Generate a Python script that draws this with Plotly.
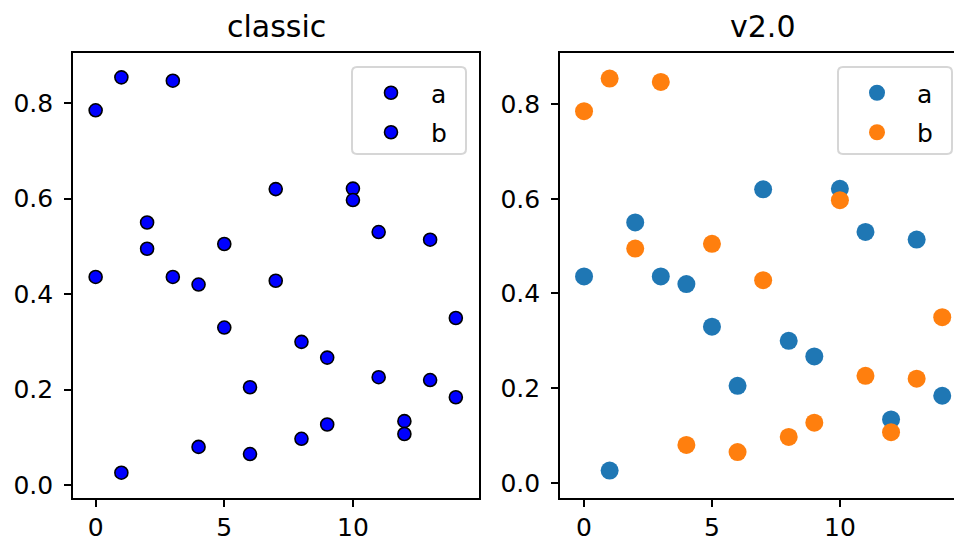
import plotly.graph_objects as go

x_vals = list(range(15))
a_vals = [0.436, 0.026, 0.550, 0.436, 0.420, 0.330, 0.205, 0.620, 0.300, 0.267, 0.621, 0.530, 0.134, 0.514, 0.184]
b_vals = [0.785, 0.854, 0.495, 0.847, 0.080, 0.505, 0.065, 0.428, 0.097, 0.127, 0.597, 0.226, 0.107, 0.220, 0.350]
series_names = ["a", "b"]
panel_titles = ["classic", "v2.0"]
y_tick_vals = [0.0, 0.2, 0.4, 0.6, 0.8]
x_tick_vals = [0, 5, 10]

W, H = 954, 539
FONT = "DejaVu Sans"

fig = go.Figure()

# classic panel
for name, vals in zip(series_names, [a_vals, b_vals]):
    fig.add_trace(go.Scatter(
        x=x_vals, y=vals, mode="markers", name=name,
        marker=dict(size=13, color="#0000ff", line=dict(color="black", width=1.6)),
        xaxis="x", yaxis="y", legend="legend", legendgroup="c_" + name,
    ))

# v2.0 panel
for name, vals, col in zip(series_names, [a_vals, b_vals], ["#1f77b4", "#ff7f0e"]):
    fig.add_trace(go.Scatter(
        x=x_vals, y=vals, mode="markers", name=name,
        marker=dict(size=18, color=col, line=dict(width=0)),
        xaxis="x2", yaxis="y2", legend="legend2", legendgroup="v_" + name,
    ))

def px(x):
    return x / W

def py(y):
    return 1 - y / H

axis_common = dict(
    showgrid=False, zeroline=False, showline=True, linecolor="black", linewidth=1.6,
    ticks="outside", ticklen=7, tickwidth=1.6, tickcolor="black", automargin=False,
    tickfont=dict(family=FONT, size=25, color="black"),
)

legend_common = dict(
    xanchor="left", yanchor="top", bgcolor="rgba(255,255,255,0)", borderwidth=0,
    itemwidth=70, tracegroupgap=4,
    font=dict(family=FONT, size=25, color="black"),
)

fig.update_layout(
    width=W, height=H,
    margin=dict(l=0, r=0, t=0, b=0, autoexpand=False),
    paper_bgcolor="white", plot_bgcolor="white",
    font=dict(family=FONT, color="black"),
    xaxis=dict(domain=[px(73), px(479)], range=[-0.88, 14.9], tickvals=x_tick_vals,
               anchor="y", mirror=True, ticklabelstandoff=-1, **axis_common),
    yaxis=dict(domain=[py(498), py(53)], range=[-0.027, 0.905], tickvals=y_tick_vals,
               tickformat=".1f", anchor="x", mirror=True, ticklabelstandoff=6, **axis_common),
    xaxis2=dict(domain=[px(560), 1.0], range=[-0.94, 14.46], tickvals=x_tick_vals,
                anchor="y2", mirror=True, ticklabelstandoff=-1, **axis_common),
    yaxis2=dict(domain=[py(498), py(53)], range=[-0.032, 0.908], tickvals=y_tick_vals,
                tickformat=".1f", anchor="x2", mirror=False, ticklabelstandoff=6, **axis_common),
    legend=dict(x=px(351), y=py(70), **legend_common),
    legend2=dict(x=px(837), y=py(70), **legend_common),
    showlegend=True,
)

def rounded_rect_px(x0, y0, x1, y1, r):
    # pixel coords (top-left origin) -> paper coords path
    pts = lambda x, y: f"{px(x):.5f},{py(y):.5f}"
    return (f"M {pts(x0 + r, y0)} L {pts(x1 - r, y0)} Q {pts(x1, y0)} {pts(x1, y0 + r)} "
            f"L {pts(x1, y1 - r)} Q {pts(x1, y1)} {pts(x1 - r, y1)} L {pts(x0 + r, y1)} "
            f"Q {pts(x0, y1)} {pts(x0, y1 - r)} L {pts(x0, y0 + r)} Q {pts(x0, y0)} {pts(x0 + r, y0)} Z")

for (x0, x1) in [(352, 466), (838, 952)]:
    fig.add_shape(type="path", xref="paper", yref="paper",
                  path=rounded_rect_px(x0, 67, x1, 154, 5),
                  fillcolor="white", line=dict(color="#d6d6d6", width=2), layer="above")

for title, cx in zip(panel_titles, [276, 762]):
    fig.add_annotation(text=title, x=px(cx), y=py(27), xref="paper", yref="paper",
                       showarrow=False, xanchor="center", yanchor="middle",
                       font=dict(family=FONT, size=30, color="black"))

fig.write_html(
    "out.html",
    config={"displayModeBar": False},
    post_script="document.body.style.margin='0px';document.body.style.overflow='hidden';",
)
